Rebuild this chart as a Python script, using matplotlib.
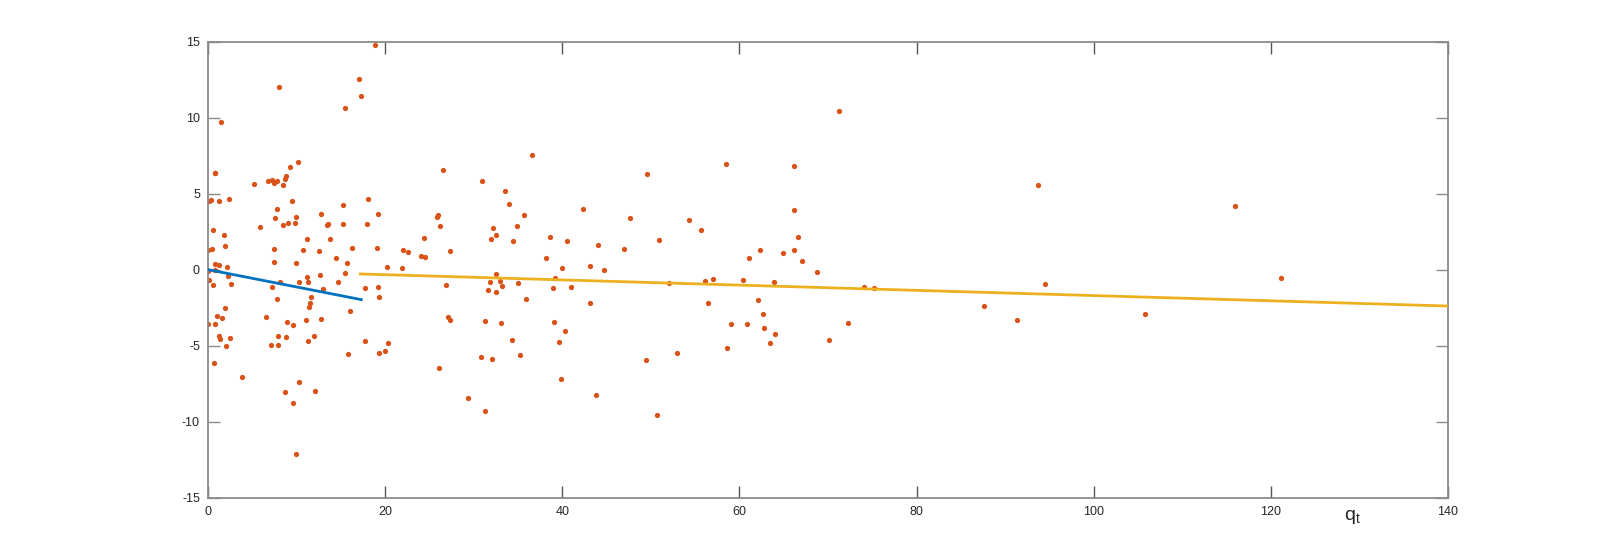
import matplotlib
matplotlib.use("Agg")
import matplotlib.pyplot as plt
import numpy as np

plt.rcParams['font.family'] = ['Liberation Sans', 'DejaVu Sans']
plt.rcParams['axes.unicode_minus'] = False

# scatter data (q_t, residual)
x_vals = [
    18.86, 17.06, 17.28, 15.47, 8.02, 1.47, 0.70, 0.80, 10.17, 9.26, 8.81, 8.62, 8.47, 7.79, 7.45, 7.23, 6.78, 5.20,
    0.11, 0.26, 1.17, 2.37, 9.49, 7.79, 7.57, 5.87, 8.47, 9.04, 9.83, 9.94, 15.25, 18.07, 19.20, 17.96, 15.25, 12.76,
    13.44, 13.55, 13.78, 11.18, 0.56, 1.81, 1.92, 0.0, 0.38, 7.38, 10.73, 12.54, 16.27, 19.09, 22.03, 22.59, 7.45,
    9.94, 14.46, 15.70, 0.75, 1.24, 2.15, 20.22, 21.91,
    0.0, 0.75, 0.11, 0.56, 2.26, 2.60, 7.23, 8.13, 7.79, 10.28, 11.18, 11.30, 12.65, 12.99, 11.63, 11.52, 11.41,
    15.47, 14.68, 16.04, 17.73, 19.20, 19.31, 1.92, 1.02, 1.58, 0.0, 0.79, 1.24, 1.36, 2.48, 2.03, 0.68, 3.84, 6.55,
    8.92, 9.60, 11.07, 12.76, 7.91, 8.81, 11.97, 11.30, 7.12, 7.91, 15.81, 17.73, 19.31, 19.99, 20.33, 10.28, 8.70,
    12.09, 9.60, 9.94,
    26.55, 30.95, 36.52, 33.55, 34.0, 25.87, 25.98, 26.21, 35.7, 34.9, 32.2, 32.53, 31.97, 34.45, 24.4, 27.34, 24.08,
    24.53, 42.36, 49.59, 47.67, 38.63, 40.55, 44.06, 46.99, 50.95, 38.18, 39.99, 43.15, 44.73,
    32.53, 31.86, 32.99, 33.21, 31.63, 32.53, 35.02, 39.20, 38.97, 40.99, 35.92, 26.89, 43.15, 27.11, 27.34, 31.29,
    33.10, 39.09, 40.33, 39.65, 34.34, 35.25, 30.84, 32.08, 26.09, 49.48, 39.88, 43.83, 29.37, 31.29, 50.72,
    71.28, 58.51, 66.19, 66.19, 54.33, 55.69, 66.64, 61.11, 62.35, 64.95, 66.19, 67.10, 68.79, 52.07, 56.14, 57.04,
    60.43, 63.93, 74.10, 75.23, 56.48, 62.13, 62.69, 59.08, 60.88, 62.81, 64.05, 63.48, 58.63, 70.15, 72.29, 52.98,
    93.76, 116.0, 94.55, 121.2, 87.65, 91.38, 105.8,
]
y_vals = [
    14.76, 12.54, 11.40, 10.61, 12.0, 9.69, 6.34, 6.34, 7.06, 6.73, 6.16, 5.96, 5.55, 5.81, 5.68, 5.92, 5.81, 5.61,
    4.54, 4.56, 4.50, 4.63, 4.50, 3.97, 3.38, 2.79, 2.92, 3.05, 3.05, 3.44, 4.23, 4.63, 3.64, 2.98, 2.98, 3.64,
    2.92, 2.98, 2.0, 2.0, 2.59, 2.26, 1.54, 1.27, 1.34, 1.34, 1.27, 1.21, 1.40, 1.40, 1.27, 1.14, 0.48,
    0.42, 0.75, 0.42, 0.35, 0.29, 0.15, 0.15, 0.11,
    -0.11, -0.02, -0.68, -1.03, -0.42, -0.96, -1.16, -0.83, -1.95, -0.83, -0.50, -0.83, -0.37, -1.29, -1.82, -2.21, -2.48,
    -0.24, -0.83, -2.74, -1.23, -1.16, -1.82, -2.54, -3.07, -3.20, -3.59, -3.59, -4.39, -4.58, -4.52, -5.04, -6.16, -7.08, -3.13,
    -3.46, -3.66, -3.33, -3.27, -4.39, -4.45, -4.39, -4.71, -4.98, -4.98, -5.57, -4.71, -5.50, -5.37, -4.84, -7.41, -8.07,
    -8.00, -8.79, -12.15,
    6.54, 5.81, 7.52, 5.15, 4.30, 3.44, 3.57, 2.85, 3.57, 2.85, 2.72, 2.26, 2.0, 1.86, 2.06, 1.21, 0.88,
    0.81, 3.97, 6.27, 3.38, 2.16, 1.86, 1.60, 1.34, 1.93, 0.75, 0.11, 0.22, -0.05,
    -0.30, -0.83, -0.77, -1.09, -1.36, -1.49, -0.90, -0.57, -1.23, -1.16, -1.95, -1.03, -2.21, -3.13, -3.33, -3.40,
    -3.53, -3.46, -4.05, -4.78, -4.65, -5.63, -5.77, -5.90, -6.49, -5.96, -7.21, -8.26, -8.46, -9.32, -9.58,
    10.42, 6.93, 6.80, 3.91, 3.25, 2.59, 2.13, 0.75, 1.27, 1.07, 1.27, 0.55, -0.18, -0.90, -0.77, -0.63,
    -0.70, -0.83, -1.16, -1.22, -2.21, -2.02, -2.94, -3.60, -3.60, -3.86, -4.25, -4.84, -5.18, -4.65, -3.53, -5.50,
    5.55, 4.17, -0.96, -0.57, -2.41, -3.33, -2.93,
]

# fitted segments
fit1_x = [0.0, 17.28]
fit1_y = [0.0, -1.97]
fit2_x = [17.17, 140.0]
fit2_y = [-0.28, -2.39]

x_ticks = [0, 20, 40, 60, 80, 100, 120, 140]
y_ticks = [-15, -10, -5, 0, 5, 10, 15]

fig = plt.figure(figsize=(16, 5.6), dpi=100)
ax = fig.add_axes([0.1302, 0.1113, 0.7746, 0.8142])

ax.plot(x_vals, y_vals, 'o', color='#D95319', markersize=3.8, markeredgewidth=0, zorder=2)
ax.plot(fit1_x, fit1_y, '-', color='#0072BD', linewidth=2.0, zorder=3)
ax.plot(fit2_x, fit2_y, '-', color='#EDB120', linewidth=2.0, zorder=3)

ax.set_xlim(0, 140)
ax.set_ylim(-15, 15)
ax.set_xticks(x_ticks)
ax.set_yticks(y_ticks)

for s in ax.spines.values():
    s.set_color('#8a8a8a')
    s.set_linewidth(1.3)

ax.tick_params(axis='x', direction='in', length=8.5, width=1.0, color='#555555',
               top=True, bottom=True, labelsize=9, labelcolor='#262626', pad=6)
ax.tick_params(axis='y', direction='in', length=8.5, width=1.0, color='#8a8a8a',
               left=True, right=True, labelsize=9, labelcolor='#262626', pad=6)

fig.text(1352 / 1600, 1 - 517 / 560, r'q$_\mathregular{t}$', fontsize=14, ha='center', va='center',
         color='#262626')

fig.savefig('out.png', dpi=100)
